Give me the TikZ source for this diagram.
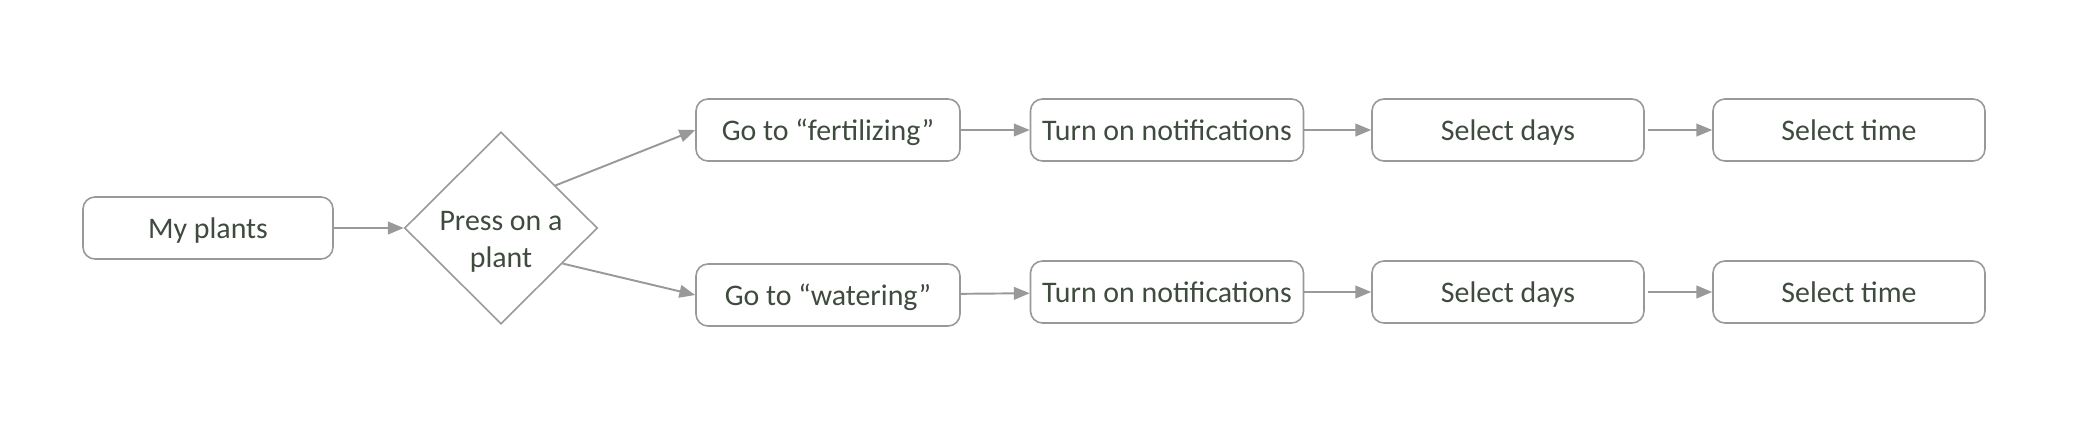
\documentclass[tikz,border=0pt]{standalone}
\usepackage{fontspec}
\setmainfont{Carlito}
\usetikzlibrary{shapes.geometric,arrows.meta}
\definecolor{linegray}{HTML}{999999}
\definecolor{textgreen}{HTML}{3E4B3E}

\tikzset{
	stepbox/.style={draw=linegray, line width=0.45pt, rounded corners=3.4pt, minimum height=0.62cm, inner sep=0pt, text height=0.2cm, text depth=0pt, text=textgreen, font=\fontsize{8.5}{10.5}\selectfont},
	choice/.style={diamond, draw=linegray, line width=0.45pt, minimum width=1.93cm, minimum height=1.92cm, inner xsep=0pt, inner ysep=-0.12cm, align=center, text=textgreen, font=\fontsize{8.5}{10.5}\selectfont},
	flow/.style={draw=linegray, line width=0.55pt, -{Triangle[length=4.5pt, width=3.6pt]}}
}

\begin{document}
\begin{tikzpicture}
		\useasboundingbox (0,0) rectangle (20.74,4.26);

		\node[stepbox, minimum width=2.50cm] (plants) at (2.08,1.98) {My plants};
		\node[choice] (press) at (5.01,1.98) {\rule{0pt}{0.47cm}Press on a\\plant};

		\node[stepbox, minimum width=2.64cm] (fert) at (8.28,2.96) {Go to ``fertilizing''};
		\node[stepbox, minimum width=2.73cm] (notif1) at (11.67,2.96) {Turn on notifications};
		\node[stepbox, minimum width=2.72cm] (days1) at (15.08,2.96) {Select days};
		\node[stepbox, minimum width=2.72cm] (time1) at (18.49,2.96) {Select time};

		\node[stepbox, minimum width=2.64cm] (water) at (8.28,1.31) {Go to ``watering''};
		\node[stepbox, minimum width=2.73cm] (notif2) at (11.67,1.34) {Turn on notifications};
		\node[stepbox, minimum width=2.72cm] (days2) at (15.08,1.34) {Select days};
		\node[stepbox, minimum width=2.72cm] (time2) at (18.49,1.34) {Select time};

		\draw[flow] (plants) -- (press);
		\draw[flow] (press.38) -- (fert.west);
		\draw[flow] (press.-30) -- (water.west);

		\draw[flow] (fert) -- (notif1);
		\draw[flow] (notif1) -- (days1);
		\draw[flow, shorten <=1pt] (days1) -- (time1);

		\draw[flow] (water) -- (notif2);
		\draw[flow] (notif2) -- (days2);
		\draw[flow, shorten <=1pt] (days2) -- (time2);
	\end{tikzpicture}
\end{document}
